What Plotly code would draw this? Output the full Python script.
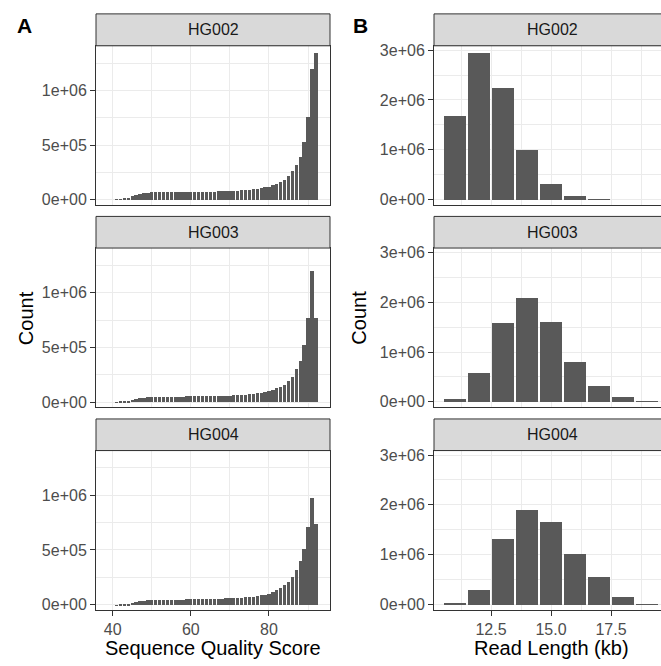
import plotly.graph_objects as go

# ---------------- data ----------------
samples = ["HG002", "HG003", "HG004"]

quality_scores = [39, 40, 41, 42, 43, 44, 45, 46, 47, 48, 49, 50,
                  51, 52, 53, 54, 55, 56, 57, 58, 59, 60,
                  61, 62, 63, 64, 65, 66, 67, 68, 69, 70,
                  71, 72, 73, 74, 75, 76, 77, 78, 79, 80,
                  81, 82, 83, 84, 85, 86, 87, 88, 89, 90, 91, 92]

qual_hg002 = [0, 0, 1000, 3000, 9000, 20000, 33000, 45000, 55000, 62000, 66000, 68000,
              69000, 70000, 70500, 71000, 71000, 71500, 72000, 72000, 72500, 73000,
              73500, 74000, 74500, 75000, 75500, 76000, 77000, 78000, 79000, 80000,
              82000, 84000, 86000, 89000, 92000, 96000, 101000, 107000, 114000, 122000,
              132000, 145000, 162000, 185000, 220000, 265000, 320000, 395000, 530000, 760000,
              1200000, 1340000]
qual_hg003 = [0, 0, 500, 1500, 5000, 12000, 22000, 30000, 37000, 42000, 45000, 47000,
              48000, 48500, 49000, 49500, 50000, 50500, 51000, 51500, 52000, 52500,
              53000, 53500, 54000, 55000, 55500, 56000, 57000, 58000, 59000, 60000,
              62000, 64000, 66000, 69000, 72000, 76000, 81000, 87000, 94000, 102000,
              112000, 125000, 140000, 160000, 190000, 230000, 300000, 380000, 520000, 770000,
              1200000, 770000]
qual_hg004 = [0, 0, 500, 1500, 6000, 14000, 24000, 32000, 38000, 42000, 45000, 47000,
              48000, 48500, 49000, 49500, 50000, 50500, 51000, 51500, 52000, 53000,
              54000, 55000, 55500, 56000, 57000, 58000, 59000, 60000, 61000, 62000,
              64000, 66000, 68000, 71000, 74000, 78000, 83000, 89000, 96000, 105000,
              118000, 135000, 155000, 180000, 215000, 260000, 320000, 400000, 510000, 710000,
              980000, 740000]

read_length_kb = [11, 12, 13, 14, 15, 16, 17, 18, 19]
len_hg002 = [1680000, 2940000, 2250000, 1000000, 320000, 65000, 10000, 0, 0]
len_hg003 = [50000, 580000, 1580000, 2080000, 1610000, 800000, 310000, 100000, 12000]
len_hg004 = [20000, 300000, 1330000, 1910000, 1670000, 1030000, 550000, 160000, 15000]

qual_xticks = [40, 60, 80]
qual_xticktext = ["40", "60", "80"]
qual_yticks = [0, 500000, 1000000]
qual_yticktext = ["0e+00", "5e+05", "1e+06"]
len_xticks = [12.5, 15.0, 17.5]
len_xticktext = ["12.5", "15.0", "17.5"]
len_yticks = [0, 1000000, 2000000, 3000000]
len_yticktext = ["0e+00", "1e+06", "2e+06", "3e+06"]

# ---------------- layout helpers ----------------
W, H = 661, 666
FONT = "Liberation Sans, Arial, Helvetica, sans-serif"
GRID = "#EBEBEB"
BORDER = "#333333"
BARCOL = "#595959"
TICKCOL = "#4D4D4D"


def fx(p):
    return p / W


def fy(p):
    return 1 - p / H


plot_rows = [(42.3, 203.0), (247.0, 408.0), (452.0, 613.0)]
strip_rows = [(10.0, 42.3), (215.0, 247.0), (420.0, 452.0)]
colA = (96.0, 330.0)
colB = (434.0, 661.0)

qual_series = [qual_hg002, qual_hg003, qual_hg004]
len_series = [len_hg002, len_hg003, len_hg004]

fig = go.Figure()
layout = dict(
    width=W, height=H,
    margin=dict(l=0, r=0, t=0, b=0),
    paper_bgcolor="white", plot_bgcolor="white",
    showlegend=False, bargap=0,
    font=dict(family=FONT, size=16, color=TICKCOL),
)
shapes = []
annotations = []

idx = 0
for r in range(3):
    for c in range(2):
        idx += 1
        xa = "xaxis" if idx == 1 else f"xaxis{idx}"
        ya = "yaxis" if idx == 1 else f"yaxis{idx}"
        xr = "x" if idx == 1 else f"x{idx}"
        yr = "y" if idx == 1 else f"y{idx}"
        top, bot = plot_rows[r]
        col = colA if c == 0 else colB
        bottom_row = (r == 2)
        if c == 0:
            fig.add_trace(go.Bar(x=quality_scores, y=qual_series[r], xaxis=xr, yaxis=yr,
                                 width=0.85, marker=dict(color=BARCOL, line=dict(width=0)),
                                 hoverinfo="skip"))
            xrange = [35.73, 95.62]
            xt, xtt = qual_xticks, qual_xticktext
            xminor = [50, 70, 90]
            yrange = [-45000, 1408000]
            yt, ytt = qual_yticks, qual_yticktext
            yminor = [250000, 750000, 1250000]
        else:
            fig.add_trace(go.Bar(x=read_length_kb, y=len_series[r], xaxis=xr, yaxis=yr,
                                 width=0.88, marker=dict(color=BARCOL, line=dict(width=0)),
                                 hoverinfo="skip"))
            xrange = [10.125, 19.583]
            xt, xtt = len_xticks, len_xticktext
            xminor = [11.25, 13.75, 16.25, 18.75]
            yrange = [-105000, 3090000]
            yt, ytt = len_yticks, len_yticktext
            yminor = [500000, 1500000, 2500000]

        layout[xa] = dict(
            domain=[fx(col[0]), fx(col[1])], anchor=yr, range=xrange,
            tickmode="array", tickvals=xt, ticktext=xtt,
            showticklabels=bottom_row, ticks="outside" if bottom_row else "",
            ticklen=5, tickwidth=1, tickcolor=BORDER,
            tickfont=dict(family=FONT, size=16, color=TICKCOL),
            showgrid=True, gridcolor=GRID, gridwidth=1.2, zeroline=False,
            minor=dict(tickvals=xminor, showgrid=True, gridcolor=GRID, gridwidth=0.6, ticks=""),
            showline=True, linecolor=BORDER, linewidth=1, mirror=True,
        )
        layout[ya] = dict(
            domain=[fy(bot), fy(top)], anchor=xr, range=yrange,
            tickmode="array", tickvals=yt, ticktext=ytt,
            ticks="outside", ticklen=5, tickwidth=1, tickcolor=BORDER,
            tickfont=dict(family=FONT, size=16, color=TICKCOL),
            showgrid=True, gridcolor=GRID, gridwidth=1.2, zeroline=False,
            minor=dict(tickvals=yminor, showgrid=True, gridcolor=GRID, gridwidth=0.6, ticks=""),
            showline=True, linecolor=BORDER, linewidth=1, mirror=(c == 0),
        )

        # strip
        s0, s1 = strip_rows[r]
        x1 = fx(col[1]) if c == 0 else 1.02
        shapes.append(dict(type="rect", xref="paper", yref="paper",
                           x0=fx(col[0]), x1=x1, y0=fy(s1), y1=fy(s0),
                           fillcolor="#D9D9D9", line=dict(color=BORDER, width=1), layer="above"))
        cx = 213 if c == 0 else 552
        annotations.append(dict(text=samples[r], xref="paper", yref="paper",
                                x=fx(cx), y=fy((s0 + s1) / 2), xanchor="center", yanchor="middle",
                                showarrow=False, font=dict(family=FONT, size=16, color="#1A1A1A")))

# titles and panel tags
annotations += [
    dict(text="Count", xref="paper", yref="paper", x=fx(26), y=fy(318), textangle=-90,
         xanchor="center", yanchor="middle", showarrow=False,
         font=dict(family=FONT, size=20, color="black")),
    dict(text="Count", xref="paper", yref="paper", x=fx(359.5), y=fy(318), textangle=-90,
         xanchor="center", yanchor="middle", showarrow=False,
         font=dict(family=FONT, size=20, color="black")),
    dict(text="Sequence Quality Score", xref="paper", yref="paper", x=fx(213), y=fy(652),
         xanchor="center", yanchor="middle", showarrow=False,
         font=dict(family=FONT, size=20, color="black")),
    dict(text="Read Length (kb)", xref="paper", yref="paper", x=fx(551), y=fy(652),
         xanchor="center", yanchor="middle", showarrow=False,
         font=dict(family=FONT, size=20, color="black")),
    dict(text="<b>A</b>", xref="paper", yref="paper", x=fx(24), y=fy(22),
         xanchor="center", yanchor="middle", showarrow=False,
         font=dict(family=FONT, size=21, color="black")),
    dict(text="<b>B</b>", xref="paper", yref="paper", x=fx(360.5), y=fy(22),
         xanchor="center", yanchor="middle", showarrow=False,
         font=dict(family=FONT, size=21, color="black")),
]

layout["shapes"] = shapes
layout["annotations"] = annotations
fig.update_layout(**layout)
fig.write_html("out.html")
